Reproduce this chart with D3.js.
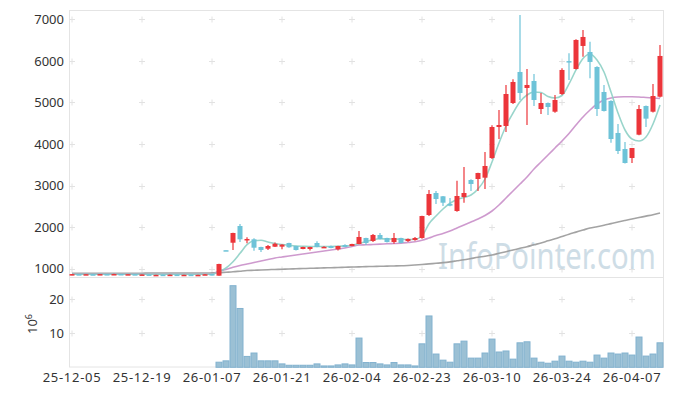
<!DOCTYPE html>
<html>
<head>
<meta charset="utf-8">
<script src="https://cdn.jsdelivr.net/npm/d3@7"></script>
<style>
  body { margin: 0; background: #fff; }
  svg text { font-family: "Noto Sans", sans-serif; }
</style>
</head>
<body>
<svg id="chart" width="673" height="396"></svg>
<script>
// trading days
const dates = [
  '25-12-05','25-12-08','25-12-09','25-12-10','25-12-11','25-12-12','25-12-15','25-12-16','25-12-17','25-12-18',
  '25-12-19','25-12-22','25-12-23','25-12-24','25-12-26','25-12-29','25-12-30','26-01-02','26-01-05','26-01-06',
  '26-01-07','26-01-08','26-01-09','26-01-12','26-01-13','26-01-14','26-01-15','26-01-16','26-01-19','26-01-20',
  '26-01-21','26-01-22','26-01-23','26-01-26','26-01-27','26-01-28','26-01-29','26-01-30','26-02-02','26-02-03',
  '26-02-04','26-02-05','26-02-06','26-02-09','26-02-10','26-02-11','26-02-12','26-02-13','26-02-19','26-02-20',
  '26-02-23','26-02-24','26-02-25','26-02-26','26-02-27','26-03-03','26-03-04','26-03-05','26-03-06','26-03-09',
  '26-03-10','26-03-11','26-03-12','26-03-13','26-03-16','26-03-17','26-03-18','26-03-19','26-03-20','26-03-23',
  '26-03-24','26-03-25','26-03-26','26-03-27','26-03-30','26-03-31','26-04-01','26-04-02','26-04-03','26-04-06',
  '26-04-07','26-04-08','26-04-09','26-04-10','26-04-13'
];

const open = [
  850,868,860,866,860,870,862,872,864,868, 858,862,850,856,852,858,850,856,848,852,
  870,832,1445,1625,2027,1700,1707,1522,1481,1529, 1530,1618,1546,1474,1474,1618,1515,1546,1467,1570,
  1546,1594,1739,1666,1811,1739,1642,1739,1666,1690, 1739,2292,2821,2742,2557,2388,2725,3134,3158,3190,
  3663,4409,4433,4986,5733,5348,5516,4842,4986,4777, 5203,5995,5805,6359,6214,5853,5251,5035,4265,3880,
  3663,4224,4914,4777,5138
];
const high = [
  872,870,872,870,874,872,876,874,872,870, 866,864,856,860,858,862,856,860,854,870,
  875,1120,1447,1862,2075,1755,1730,1530,1570,1630, 1590,1625,1550,1530,1525,1660,1540,1560,1555,1590,
  1600,1907,1745,1835,1860,1745,1859,1745,1725,1760, 2275,2894,2870,2750,2700,3117,3447,3150,3310,3808,
  4450,4818,5420,5560,7105,5805,5685,5227,5000,5180, 5820,6183,6520,6743,6462,5870,5420,5050,4480,4048,
  3904,4938,4925,5444,6383
];
const low = [
  845,858,858,856,858,858,860,860,862,856, 852,848,846,848,846,848,844,846,842,846,
  838,830,1438,1450,1642,1611,1433,1400,1450,1520, 1467,1505,1440,1465,1440,1515,1500,1490,1440,1515,
  1540,1590,1570,1642,1700,1630,1600,1610,1640,1670, 1720,2270,2557,2509,2500,2370,2588,2870,2870,2918,
  3640,4120,4289,4960,5059,4457,4914,4721,4700,4750, 5180,5540,5790,6100,5580,4674,4780,4032,3760,3530,
  3543,4210,4409,4760,5120
];
const close = [
  870,860,868,860,870,862,872,864,868,858, 862,850,852,850,856,850,854,848,852,866,
  845,1113,1440,1859,1707,1715,1505,1450,1546,1600, 1580,1515,1450,1522,1522,1522,1525,1498,1546,1522,
  1594,1763,1618,1811,1715,1642,1739,1618,1715,1739, 2267,2797,2677,2588,2516,2749,2821,3038,3302,3471,
  4409,4457,5203,5492,5227,5420,5059,4986,4890,5059, 5781,5985,6503,6575,5974,4842,4794,4120,3832,3543,
  3904,4842,4610,5155,6118
];

// volume, millions of shares
const volume = [
  0,0,0,0,0,0,0,0,0,0, 0,0,0,0,0,0,0,0,0,0,
  0,1.5,1.9,24.0,17.3,3.2,4.2,1.9,1.9,1.9, 1.0,0.6,0.6,0.6,0.6,1.0,0.4,0.4,0.7,1.0,
  0.7,8.6,1.4,1.4,1.0,0.7,1.4,0.7,0.7,0.4, 6.9,15.1,3.9,2.1,1.5,6.9,7.7,2.7,2.7,4.2,
  8.3,4.5,4.8,2.4,7.2,7.5,2.7,1.5,1.2,1.8, 3.3,1.8,1.5,1.8,1.5,3.6,2.7,4.2,3.9,4.2,
  3.6,8.9,3.3,3.9,7.2
];

// moving averages
const ma5 = [
  865,865,865,865,865,865,865,865,865,865, 865,865,865,865,865,865,865,865,865,865,
  868,928,1017,1168,1370,1577,1674,1683,1642,1606, 1582,1563,1546,1539,1534,1534,1534,1534,1541,1546,
  1563,1606,1654,1698,1719,1715,1715,1707,1703,1710, 1787,2083,2268,2436,2574,2665,2713,2773,2918,3158,
  3567,4024,4433,4746,5018,5179,5251,5239,5143,5107, 5167,5444,5781,6058,6166,6022,5733,5251,4746,4337,
  4121,4073,4169,4481,4938
];
const ma20 = [
  865,865,865,865,865,865,865,865,865,865, 865,865,865,865,865,865,865,865,865,865,
  870,945,981,1034,1077,1113,1149,1185,1221,1257, 1281,1305,1330,1354,1378,1402,1426,1450,1474,1498,
  1534,1570,1575,1582,1590,1600,1606,1613,1630,1650, 1683,1739,1799,1847,1907,1979,2051,2124,2196,2280,
  2388,2533,2701,2869,3038,3206,3399,3567,3736,3904, 4072,4253,4457,4650,4818,4962,5059,5107,5131,5136,
  5138,5131,5119,5107,5095
];
const ma120 = [
  890,890,890,890,890,890,890,890,890,890, 890,895,895,895,895,895,895,895,895,895,
  900,905,915,925,940,955,962,970,976,982, 988,993,998,1004,1009,1014,1019,1024,1029,1034,
  1040,1045,1050,1054,1058,1062,1066,1070,1078,1088, 1100,1115,1130,1145,1165,1190,1215,1245,1275,1300,
  1330,1370,1410,1450,1490,1530,1575,1618,1670,1720, 1775,1830,1880,1930,1979,2010,2045,2085,2124,2160,
  2195,2230,2265,2300,2340
];

const priceTicks = [1000, 2000, 3000, 4000, 5000, 6000, 7000];
const volumeTicks = [10, 20];
const dateTicks = dates.filter((d, i) => i % 10 === 0);

const svg = d3.select('#chart');

const x = d3.scaleBand().domain(dates).range([68.5, 663.5]).padding(0);
const cx = d => x(d) + x.bandwidth() / 2;
const yPrice = d3.scaleLinear().domain([793, 7224]).range([277.3, 10]);
const yVol = d3.scaleLinear().domain([0, 26.47]).range([367.3, 277.3]);

const red = '#ec353a', blue = '#6ec3d8';

// frame
svg.append('rect').attr('x', 69.5).attr('y', 10.5).attr('width', 594).attr('height', 356.5)
  .attr('fill', 'none').attr('stroke', '#e4e4e4');
svg.append('line').attr('x1', 69.5).attr('x2', 663.5).attr('y1', 277.5).attr('y2', 277.5)
  .attr('stroke', '#e4e4e4');

// grid crosses
function crosses(ticks, scale) {
  dateTicks.forEach(d => {
    ticks.forEach(t => {
      const px = cx(d), py = Math.round(scale(t)) + 0.5;
      svg.append('path')
        .attr('d', `M${px - 3},${py}H${px + 3}M${px},${py - 3}V${py + 3}`)
        .attr('stroke', '#e2e2e2').attr('stroke-width', 1);
    });
  });
}
crosses(priceTicks, yPrice);
crosses(volumeTicks, yVol);

// watermark, squeezed sideways to the reference width
const mark = svg.append('text').attr('x', 0).attr('y', 0)
  .style('font-size', '37px').attr('fill', '#c3d5e1').attr('opacity', 0.8)
  .text('InfoPointer.com');
const markW = mark.node().getComputedTextLength();
mark.attr('transform', `translate(438,269) scale(${218 / markW},1)`);

// volume bars
svg.append('g').selectAll('rect').data(dates).enter().append('rect')
  .attr('x', d => x(d) + 0.5)
  .attr('width', x.bandwidth() - 1)
  .attr('y', (d, i) => yVol(volume[i]))
  .attr('height', (d, i) => yVol(0) - yVol(volume[i]))
  .attr('fill', '#9bc0d4')
  .attr('stroke', '#82b2cf')
  .attr('stroke-width', 1);

// moving average lines
function maLine(values, color) {
  const line = d3.line().x((d, i) => cx(dates[i])).y(d => yPrice(d)).curve(d3.curveMonotoneX);
  svg.append('path').datum(values).attr('d', line)
    .attr('fill', 'none').attr('stroke', color).attr('stroke-width', 1.6).attr('opacity', 0.9);
}
maLine(ma120, '#999999');
maLine(ma20, '#c98fc9');
maLine(ma5, '#8ed0c5');

// candles
const candles = svg.append('g').selectAll('g').data(dates).enter().append('g');
candles.append('line')
  .attr('x1', d => cx(d)).attr('x2', d => cx(d))
  .attr('y1', (d, i) => yPrice(high[i]))
  .attr('y2', (d, i) => yPrice(low[i]))
  .attr('stroke', (d, i) => close[i] >= open[i] ? red : blue)
  .attr('stroke-width', 1.2);
candles.append('rect')
  .attr('x', d => cx(d) - 2.5)
  .attr('width', 5)
  .attr('y', (d, i) => yPrice(Math.max(open[i], close[i])))
  .attr('height', (d, i) => Math.max(1.5, Math.abs(yPrice(open[i]) - yPrice(close[i]))))
  .attr('fill', (d, i) => close[i] >= open[i] ? red : blue);

// axes
const fontColor = '#333';
const yAxisP = d3.axisLeft(yPrice).tickValues(priceTicks).tickFormat(d3.format('d'))
  .tickSize(0).tickPadding(5);
svg.append('g').attr('transform', 'translate(69,0)').call(yAxisP)
  .call(g => g.select('.domain').remove())
  .selectAll('text').style('font-size', '13px').attr('fill', fontColor);

const yAxisV = d3.axisLeft(yVol).tickValues(volumeTicks).tickFormat(d3.format('d'))
  .tickSize(0).tickPadding(5);
svg.append('g').attr('transform', 'translate(69,0)').call(yAxisV)
  .call(g => g.select('.domain').remove())
  .selectAll('text').style('font-size', '13px').attr('fill', fontColor);

const xAxis = d3.axisBottom(x).tickValues(dateTicks).tickSize(0).tickPadding(6);
svg.append('g').attr('transform', 'translate(0,367)').call(xAxis)
  .call(g => g.select('.domain').remove())
  .selectAll('text').style('font-size', '13px').style('letter-spacing', '0.7px').attr('fill', fontColor);

// 10^6 unit label
const unit = svg.append('text').attr('transform', 'translate(37,324) rotate(-90)')
  .attr('text-anchor', 'middle').style('font-size', '13px').attr('fill', fontColor);
unit.append('tspan').text('10');
unit.append('tspan').attr('dy', -5).style('font-size', '9px').text('6');
</script>
</body>
</html>
